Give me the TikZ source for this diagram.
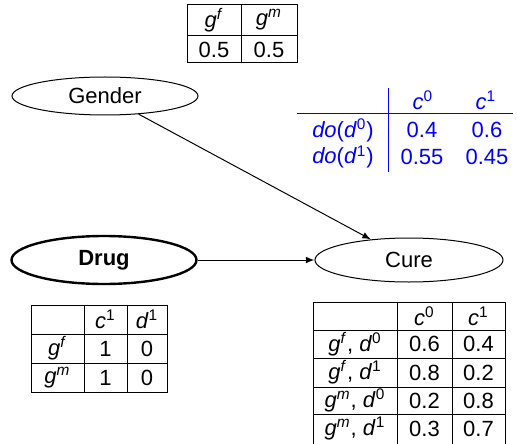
\documentclass[tikz,border=0pt]{standalone}
\usepackage{fontspec}
\setmainfont{Liberation Sans}
\usetikzlibrary{shapes.geometric}

\newcommand{\sv}[2]{\textit{#1}\textsuperscript{#2}}

\begin{document}
\begin{tikzpicture}[x=0.5pt, y=-0.5pt, line width=0.5pt, every node/.style={font=\fontsize{11}{13}\selectfont}]
    \tikzstyle{varnode}=[draw, ellipse, inner sep=0pt]
    \tikzstyle{marrs}=[-latex]

    \useasboundingbox (0,0) rectangle (517,443);

    % the network
    \node[varnode, minimum width=93pt, minimum height=19pt] (gender) at (105,96) {Gender};
    \node[varnode, line width=1.2pt, minimum width=92.5pt, minimum height=24pt] (drug) at (104,260) {\textbf{Drug}};
    \node[varnode, minimum width=94pt, minimum height=22pt] (cure) at (409,260) {Cure};

    \draw[marrs] (gender) -- (cure);
    \draw[marrs] (drug) -- (cure);

    % P(gender)
    \begin{scope}
        \draw (187,5) rectangle (297,63);
        \draw (241,5) -- (241,63);
        \draw (187,36) -- (297,36);

        \node (pg-f) at (214,20) {\sv{g}{\textit{f}}};
        \node (pg-m) at (269,20) {\sv{g}{\textit{m}}};
        \node (pg-fv) at (214,50) {0.5};
        \node (pg-mv) at (269,50) {0.5};
    \end{scope}

    % interventional distribution
    \begin{scope}[blue]
        \draw (388,88) -- (388,172);
        \draw (297,114) -- (513,114);

        \node (do-c0) at (423,100) {\sv{c}{0}};
        \node (do-c1) at (486,100) {\sv{c}{1}};
        \node (do-d0) at (343,130) {\textit{do}(\sv{d}{0})};
        \node (do-d1) at (343,157) {\textit{do}(\sv{d}{1})};
        \foreach \x/\y/\v/\n in {422/130/0.4/a, 487/130/0.6/b, 422/157/0.55/c, 487/157/0.45/d} {
            \node (do-\n) at (\x,\y) {\v};
        }
    \end{scope}

    % P(drug | gender)
    \begin{scope}
        \draw (31,305) rectangle (167,392);
        \foreach \x in {84, 127} { \draw (\x,305) -- (\x,392); }
        \foreach \y in {334, 363} { \draw (31,\y) -- (167,\y); }

        \node (pd-c1) at (105.5,319) {\sv{c}{1}};
        \node (pd-d1) at (147,319) {\sv{d}{1}};
        \node (pd-gf) at (57.5,348.5) {\sv{g}{\textit{f}}};
        \node (pd-gm) at (57.5,377.5) {\sv{g}{\textit{m}}};
        \foreach \x/\y/\v/\n in {105.5/348.5/1/a, 147/348.5/0/b, 105.5/377.5/1/c, 147/377.5/0/d} {
            \node (pd-\n) at (\x,\y) {\v};
        }
    \end{scope}

    % P(cure | gender, drug)
    \begin{scope}
        \draw (313,302) rectangle (505,447);
        \foreach \x in {397, 452} { \draw (\x,302) -- (\x,447); }
        \foreach \y in {330, 358, 387, 414} { \draw (313,\y) -- (505,\y); }

        \node (pc-c0) at (424.5,316) {\sv{c}{0}};
        \node (pc-c1) at (478.5,316) {\sv{c}{1}};
        \node (pc-r1) at (355,344) {\sv{g}{\textit{f}}, \sv{d}{0}};
        \node (pc-r2) at (355,372.5) {\sv{g}{\textit{f}}, \sv{d}{1}};
        \node (pc-r3) at (355,400.5) {\sv{g}{\textit{m}}, \sv{d}{0}};
        \node (pc-r4) at (355,428.5) {\sv{g}{\textit{m}}, \sv{d}{1}};
        \foreach \y/\a/\b/\n in {344/0.6/0.4/1, 372.5/0.8/0.2/2, 400.5/0.2/0.8/3, 428.5/0.3/0.7/4} {
            \node (pc-a\n) at (424.5,\y) {\a};
            \node (pc-b\n) at (478.5,\y) {\b};
        }
    \end{scope}

\end{tikzpicture}
\end{document}
